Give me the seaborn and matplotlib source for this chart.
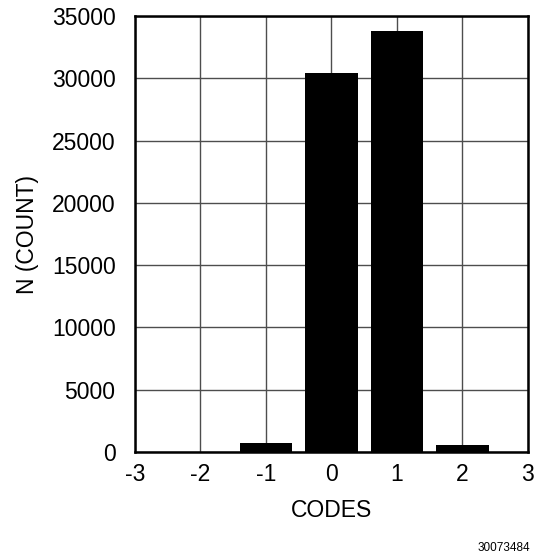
import matplotlib
matplotlib.use("Agg")
import matplotlib.pyplot as plt
import seaborn as sns

# data
codes = [-3, -2, -1, 0, 1, 2]
counts = [0, 0, 700, 30400, 33800, 560]
x_ticks = [-3, -2, -1, 0, 1, 2, 3]
y_ticks = [0, 5000, 10000, 15000, 20000, 25000, 30000, 35000]

sns.set_theme(style="white")
plt.rcParams['font.family'] = ['Liberation Sans', 'DejaVu Sans']

fig = plt.figure(figsize=(5.38, 5.56), dpi=100)
ax = fig.add_axes([0.251, 0.187, 0.730, 0.784])

sns.barplot(x=codes, y=counts, native_scale=True, color="black",
            width=0.8, saturation=1, edgecolor="black", linewidth=0, ax=ax, zorder=3)

ax.set_xlim(-3, 3)
ax.set_ylim(0, 35000)
ax.set_xticks(x_ticks)
ax.set_xticklabels([str(t) for t in x_ticks])
ax.set_yticks(y_ticks)
ax.set_yticklabels([str(t) for t in y_ticks])
ax.grid(True, color="#4d4d4d", linewidth=1.0, zorder=0)
ax.set_axisbelow(True)
ax.tick_params(axis="y", length=0, labelsize=16.5, colors="black", pad=14)
ax.tick_params(axis="x", length=0, labelsize=16.5, colors="black", pad=8)
for s in ax.spines.values():
    s.set_visible(True)
    s.set_color("black")
    s.set_linewidth(1.8)

ax.set_xlabel("CODES", fontsize=16.5, color="black", labelpad=9)
ax.set_ylabel("N (COUNT)", fontsize=16.5, color="black", labelpad=9)

fig.text(0.985, 0.003, "30073484", fontsize=8.5, ha="right", va="bottom", color="black")

fig.savefig("out.png", dpi=100, facecolor="white")
